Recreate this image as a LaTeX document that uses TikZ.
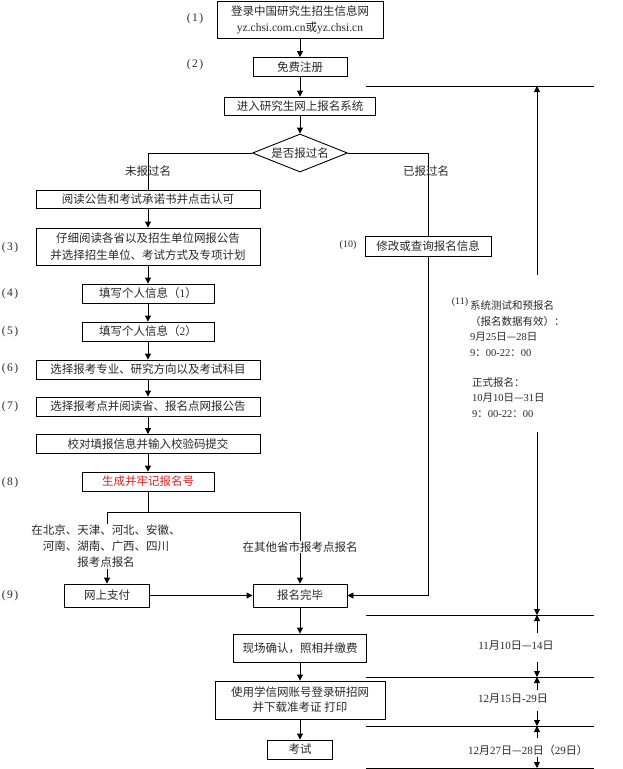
\documentclass[tikz,border=0pt]{standalone}
\usepackage{fontspec}
\setmainfont{Liberation Serif}
\newfontfamily\cjkf{Noto Sans CJK SC}
\usetikzlibrary{arrows.meta,shapes.geometric}
\newXeTeXintercharclass\cjkclass
\newcount\cjkcnt
\def\setcjkrange#1#2{\cjkcnt=#1\relax\loop\XeTeXcharclass\cjkcnt=\cjkclass\advance\cjkcnt by 1\relax\ifnum\cjkcnt<#2\relax\repeat}
\setcjkrange{"3000}{"3040}
\setcjkrange{"4E00}{"A000}
\setcjkrange{"FF00}{"FFF0}
\XeTeXcharclass"2014=\cjkclass
\XeTeXinterchartoks 0 \cjkclass = {\cjkf}
\XeTeXinterchartoks 4095 \cjkclass = {\cjkf}
\XeTeXinterchartoks \cjkclass 0 = {\rmfamily}
\XeTeXinterchartoks \cjkclass 4095 = {\rmfamily}
\XeTeXinterchartokenstate=1
\definecolor{myred}{RGB}{225,30,30}
\definecolor{txtgray}{RGB}{40,40,40}
\tikzset{
  every node/.style={text=txtgray},
  box/.style={draw=black, rectangle, line width=0.9pt, inner sep=0pt, align=center,
              font=\fontsize{11.5}{16}\selectfont},
  dia/.style={draw=black, diamond, aspect=2.5, line width=0.9pt, inner sep=0pt,
              font=\fontsize{11.5}{16}\selectfont},
  lab/.style={inner sep=0pt, font=\fontsize{11.5}{14}\selectfont},
  slab/.style={inner sep=0pt, font=\fontsize{10}{12}\selectfont},
  txt/.style={inner sep=0pt, align=center, font=\fontsize{11.5}{16}\selectfont},
  wtxt/.style={txt, fill=white, inner sep=1pt},
  rtxt/.style={inner sep=0pt, align=left, font=\fontsize{10.5}{15.5}\selectfont},
  ttxt/.style={inner sep=0pt, font=\fontsize{11}{13}\selectfont},
  conn/.style={line width=0.9pt},
  arr/.style={line width=0.9pt, -{Triangle[length=6pt,width=6pt]}}
}
\begin{document}
\begin{tikzpicture}[x=1pt,y=-1pt]
\useasboundingbox (0,0) rectangle (622,769);
% main column
\node[box, minimum width=166pt, minimum height=37pt] (n1) at (300,19.5) {登录中国研究生招生信息网\\yz.chsi.com.cn或yz.chsi.cn};
\node[box, minimum width=94pt, minimum height=19pt] (n2) at (300,67) {免费注册};
\node[box, minimum width=151pt, minimum height=18pt] (n3) at (300,106) {进入研究生网上报名系统};
\node[dia, minimum width=95pt, minimum height=38pt] (d) at (300,153) {是否报过名};
% left column
\node[box, minimum width=224pt, minimum height=18pt] (r1) at (148,199) {阅读公告和考试承诺书并点击认可};
\node[box, minimum width=224pt, minimum height=37pt, font=\fontsize{11.5}{17}\selectfont] (r2) at (148,246.5) {仔细阅读各省以及招生单位网报公告\\并选择招生单位、考试方式及专项计划};
\node[box, minimum width=132pt, minimum height=19pt] (r3) at (148,293.5) {填写个人信息（1）};
\node[box, minimum width=132pt, minimum height=19pt] (r4) at (148,331.5) {填写个人信息（2）};
\node[box, minimum width=224pt, minimum height=19pt] (r5) at (148,369.5) {选择报考专业、研究方向以及考试科目};
\node[box, minimum width=224pt, minimum height=19pt] (r6) at (148,406.5) {选择报考点并阅读省、报名点网报公告};
\node[box, minimum width=224pt, minimum height=19pt] (r7) at (148,444) {校对填报信息并输入校验码提交};
\node[box, minimum width=132pt, minimum height=19pt, text=myred] (r8) at (148,481.5) {生成并牢记报名号};
\node[box, minimum width=85pt, minimum height=23pt] (pay) at (107,595.5) {网上支付};
\node[box, minimum width=94pt, minimum height=23pt] (done) at (300,595.5) {报名完毕};
\node[box, minimum width=133pt, minimum height=28pt] (conf) at (300,648) {现场确认，照相并缴费};
\node[box, minimum width=170pt, minimum height=38pt, font=\fontsize{11.5}{15}\selectfont] (dl) at (300,700) {使用学信网账号登录研招网\\并下载准考证 打印};
\node[box, minimum width=65pt, minimum height=19pt] (exam) at (300,749.5) {考试};
% right branch box
\node[box, minimum width=126pt, minimum height=20pt] (r10) at (428,246) {修改或查询报名信息};
% step labels
\node[lab] (l1) at (195,19) {(\kern1.5pt1\kern1.5pt)};
\node[lab] (l2) at (195,65) {(\kern1.5pt2\kern1.5pt)};
\node[lab] (l3) at (10,248) {(\kern1.5pt3\kern1.5pt)};
\node[lab] (l4) at (10,294) {(\kern1.5pt4\kern1.5pt)};
\node[lab] (l5) at (10,332) {(\kern1.5pt5\kern1.5pt)};
\node[lab] (l6) at (10,369) {(\kern1.5pt6\kern1.5pt)};
\node[lab] (l7) at (10,407) {(\kern1.5pt7\kern1.5pt)};
\node[lab] (l8) at (10,483) {(\kern1.5pt8\kern1.5pt)};
\node[lab] (l9) at (10,596) {(\kern1.5pt9\kern1.5pt)};
\node[slab] (l10) at (348,245) {(10)};
\node[slab] (l11) at (460,302) {(11)};
% connectors main
\draw[arr] (n1) -- (n2);
\draw[arr] (n2) -- (n3);
\draw[arr] (n3) -- (d);
\draw[conn] (d.west) -| (r1.north);
\draw[conn] (d.east) -| (r10.north);
\node[txt] (lno) at (148,171) {未报过名};
\node[txt] (lyes) at (426,171) {已报过名};
\draw[arr] (r1) -- (r2);
\draw[arr] (r2) -- (r3);
\draw[arr] (r3) -- (r4);
\draw[arr] (r4) -- (r5);
\draw[arr] (r5) -- (r6);
\draw[arr] (r6) -- (r7);
\draw[arr] (r7) -- (r8);
\coordinate (sL) at (107,512);
\coordinate (sR) at (300,512);
\draw[conn] (r8.south) -- (r8.south |- sL);
\draw[conn] (sL) -- (sR);
\draw[arr] (sL) -- (pay.north);
\draw[arr] (sR) -- (done.north);
\node[wtxt] (lbj) at (106,546.5) {在北京、天津、河北、安徽、\\河南、湖南、广西、四川\\报考点报名};
\node[wtxt] (loth) at (300,547) {在其他省市报考点报名};
\draw[arr] (pay) -- (done);
\draw[arr] (r10.south) |- (done.east);
\draw[arr] (done) -- (conf);
\draw[arr] (conf) -- (dl);
\draw[arr] (dl) -- (exam);
% right timeline
\coordinate (L0a) at (366,86);  \coordinate (L0b) at (594,86);
\coordinate (L1a) at (366,615); \coordinate (L1b) at (594,615);
\coordinate (L2a) at (366,677); \coordinate (L2b) at (594,677);
\coordinate (L3a) at (366,726); \coordinate (L3b) at (594,726);
\coordinate (L4a) at (366,768); \coordinate (L4b) at (594,768);
\foreach \i in {0,...,4} {\draw[conn] (L\i a) -- (L\i b);}
\coordinate (t0) at (537,86);   \coordinate (t0s) at (537,275);
\coordinate (t1s) at (537,432); \coordinate (t1) at (537,615);
\coordinate (u1) at (537,633);  \coordinate (d1) at (537,662);
\coordinate (t2) at (537,677);
\coordinate (u2) at (537,690);  \coordinate (d2) at (537,711);
\coordinate (t3) at (537,726);
\coordinate (u3) at (537,738);  \coordinate (d3) at (537,757);
\coordinate (t4) at (537,768);
\draw[arr] (t0s) -- (t0);
\draw[arr] (t1s) -- (t1);
\draw[arr] (u1) -- (t1);
\draw[arr] (d1) -- (t2);
\draw[arr] (u2) -- (t2);
\draw[arr] (d2) -- (t3);
\draw[arr] (u3) -- (t3);
\draw[arr] (d3) -- (t4);
\node[rtxt, anchor=west] (ta) at (470,328.5) {系统测试和预报名\\（报名数据有效）：\\9月25日—28日\\9：00-22：00};
\node[rtxt, anchor=west] (tb) at (472,397.5) {正式报名：\\10月10日—31日\\9：00-22：00};
\node[ttxt] (tt1) at (516,646) {11月10日—14日};
\node[ttxt] (tt2) at (513,699) {12月15日-29日};
\node[ttxt] (tt3) at (528,750) {12月27日—28日（29日）};
\end{tikzpicture}
\end{document}
